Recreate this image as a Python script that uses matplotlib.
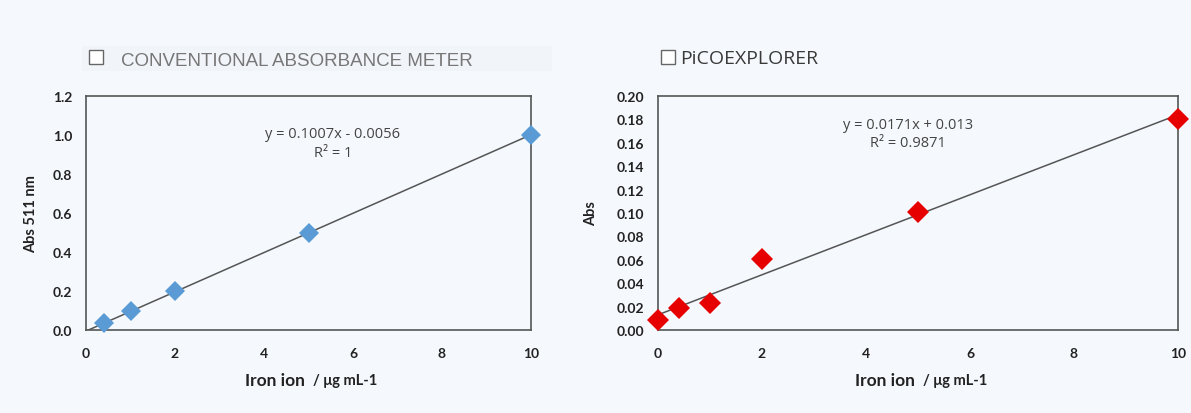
import numpy as np
import matplotlib
matplotlib.use('Agg')
import matplotlib.pyplot as plt
from matplotlib.patches import Rectangle

# conventional absorbance meter
conv_x = [0.4, 1, 2, 5, 10]
conv_y = [0.035, 0.098, 0.200, 0.500, 1.000]
conv_fit = (0.1007, -0.0056)
conv_eq = ['y = 0.1007x - 0.0056', 'R² = 1']

# PiCOEXPLORER
pico_x = [0, 0.4, 1, 2, 5, 10]
pico_y = [0.0083, 0.0186, 0.0231, 0.0608, 0.1011, 0.1805]
pico_fit = (0.0171, 0.013)
pico_eq = ['y = 0.0171x + 0.013', 'R² = 0.9871']

bg = '#f5f8fc'
tick_font = ['Lato', 'DejaVu Sans']
W, H = 1191, 414

fig = plt.figure(figsize=(W / 100, H / 100), dpi=100, facecolor=bg)

def px(x0, y0, x1, y1):
  return [x0 / W, 1 - y1 / H, (x1 - x0) / W, (y1 - y0) / H]

def panel(rect, xs, ys, fit, eq, ylim, yticks, yfmt, color, msize, ylabel, ylabel_x, eq_xy):
  ax = fig.add_axes(px(*rect))
  ax.set_facecolor(bg)
  ax.set_xlim(0, 10)
  ax.set_ylim(*ylim)
  ax.set_xticks([0, 2, 4, 6, 8, 10])
  ax.set_yticks(yticks)
  ax.set_yticklabels([yfmt.format(v) for v in yticks])
  ax.tick_params(length=0, labelsize=10, labelcolor='#222222')
  ax.tick_params(axis='x', pad=12)
  ax.tick_params(axis='y', pad=10)
  for lab in ax.get_xticklabels() + ax.get_yticklabels():
    lab.set_family(tick_font)
    lab.set_fontweight('bold')
  for s in ax.spines.values():
    s.set_color('#555555')
    s.set_linewidth(1.2)
  lx = np.array([0, 10])
  ax.plot(lx, fit[0] * lx + fit[1], color='#555555', lw=1.1, zorder=2)
  ax.plot(xs, ys, linestyle='none', marker='D', ms=msize, color=color,
          markeredgewidth=0, zorder=3, clip_on=False)
  ax.text(eq_xy[0], eq_xy[1], eq[0] + '\n' + eq[1], transform=ax.transAxes,
          ha='center', va='center', fontsize=10.5, color='#444444',
          family=['Open Sans', 'DejaVu Sans'], linespacing=1.35)
  fig.text(ylabel_x / W, 1 - ((rect[1] + rect[3]) / 2) / H, ylabel, rotation=90,
           ha='center', va='center', fontsize=10.5, fontweight='bold',
           family=tick_font, color='#222222')
  cx = (rect[0] + rect[2]) / 2 / W
  fig.text(cx - 0.003, 1 - 381 / H, 'Iron ion', ha='right', va='center',
           fontsize=12.5, fontweight='bold', family=tick_font, color='#222222')
  fig.text(cx + 0.004, 1 - 381 / H, '/ μg mL-1', ha='left', va='center',
           fontsize=10.5, fontweight='bold', family=tick_font, color='#222222')
  return ax

panel((86, 97, 531, 331), conv_x, conv_y, conv_fit, conv_eq, (0, 1.2),
      [0, 0.2, 0.4, 0.6, 0.8, 1.0, 1.2], '{:.1f}', '#5b9bd5', 10.5,
      'Abs 511 nm', 31, (0.555, 0.8))
panel((658, 97, 1178, 331), pico_x, pico_y, pico_fit, pico_eq, (0, 0.2),
      list(np.round(np.arange(0, 0.21, 0.02), 2)), '{:.2f}', '#e60000', 11,
      'Abs', 591, (0.48, 0.84))

# title strips
fig.patches.append(Rectangle((82 / W, 1 - 72 / H), 470 / W, 25 / H,
                             transform=fig.transFigure, facecolor='#f1f4f9',
                             edgecolor='none', zorder=0))
for x0, y0 in [(89, 51), (661, 51)]:
  fig.patches.append(Rectangle((x0 / W, 1 - (y0 + 14) / H), 14 / W, 14 / H,
                               transform=fig.transFigure, facecolor='white',
                               edgecolor='#666666', lw=1.0))
fig.text(121 / W, 1 - 61 / H, 'CONVENTIONAL ABSORBANCE METER', ha='left', va='center',
         fontsize=13.5, color='#777777', family=['Liberation Sans', 'DejaVu Sans'])
fig.text(680 / W, 1 - 59 / H, 'PiCOEXPLORER', ha='left', va='center',
         fontsize=14, color='#3a3a3a', family=['Open Sans', 'DejaVu Sans'])

fig.savefig('out.png', dpi=100, facecolor=bg)
